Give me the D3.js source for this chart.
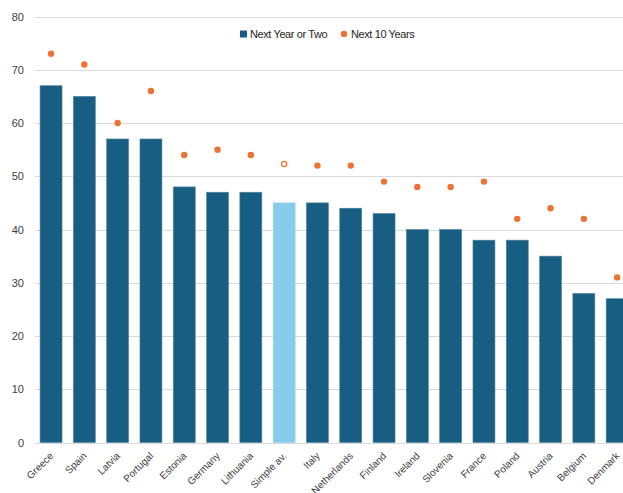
<!DOCTYPE html>
<html>
<head>
<meta charset="utf-8">
<script src="https://cdn.jsdelivr.net/npm/d3@7"></script>
<style>
  body { margin: 0; background: #fff; }
  svg { font-family: "Liberation Sans", Arial, sans-serif; }
</style>
</head>
<body>
<svg id="chart" width="623" height="493"></svg>
<script>
// Chart data
const countries = ["Greece", "Spain", "Latvia", "Portugal", "Estonia", "Germany", "Lithuania", "Simple av.", "Italy", "Netherlands", "Finland", "Ireland", "Slovenia", "France", "Poland", "Austria", "Belgium", "Denmark"];
const nextYearOrTwo = [67, 65, 57, 57, 48, 47, 47, 45, 45, 44, 43, 40, 40, 38, 38, 35, 28, 27];
const next10Years = [73, 71, 60, 66, 54, 55, 54, 52.3, 52, 52, 49, 48, 48, 49, 42, 44, 42, 31];
const yTicks = [0, 10, 20, 30, 40, 50, 60, 70, 80];
const highlight = "Simple av.";

const data = countries.map((c, i) => ({ country: c, near: nextYearOrTwo[i], far: next10Years[i] }));

const svg = d3.select("#chart");
const plotLeft = 35, plotRight = 623;
const plotTop = 16.5, plotBottom = 442.5;

// Scales
const x = d3.scaleBand()
    .domain(countries)
    .range([34.4, 34.4 + 18 * 33.3])
    .paddingInner(0.34)
    .paddingOuter(0.17);

const y = d3.scaleLinear()
    .domain([0, 80])
    .range([plotBottom, plotTop]);

// Gridlines
svg.append("g")
    .selectAll("line")
    .data(yTicks)
    .enter()
    .append("line")
    .attr("x1", plotLeft)
    .attr("x2", plotRight)
    .attr("y1", d => Math.round(y(d)) + 0.5)
    .attr("y2", d => Math.round(y(d)) + 0.5)
    .attr("stroke", "#d9d9d9")
    .attr("stroke-width", 1);

// Y axis labels
svg.append("g")
    .selectAll("text")
    .data(yTicks)
    .enter()
    .append("text")
    .attr("x", 24)
    .attr("y", d => y(d) + 4)
    .attr("text-anchor", "end")
    .attr("font-size", 11)
    .attr("fill", "#404040")
    .text(d => d);

// Bars
svg.append("g")
    .selectAll("rect")
    .data(data)
    .enter()
    .append("rect")
    .attr("x", d => x(d.country))
    .attr("y", d => y(d.near))
    .attr("width", x.bandwidth())
    .attr("height", d => y(0) - y(d.near))
    .attr("fill", d => d.country === highlight ? "#88ccec" : "#175e82")
    .attr("stroke", d => d.country === highlight ? "#9ad4ef" : "#4f86a3")
    .attr("stroke-width", 0.6);

// Dots
svg.append("g")
    .selectAll("circle")
    .data(data)
    .enter()
    .append("circle")
    .attr("cx", d => x(d.country) + x.bandwidth() / 2)
    .attr("cy", d => y(d.far))
    .attr("r", d => d.country === highlight ? 2.6 : 3.2)
    .attr("fill", d => d.country === highlight ? "#fff" : "#ed7233")
    .attr("stroke", d => d.country === highlight ? "#ed7233" : "none")
    .attr("stroke-width", 1.3);

// X axis labels (baseline end sits just right of the bar centre)
svg.append("g")
    .selectAll("text")
    .data(countries)
    .enter()
    .append("text")
    .attr("transform", d => `translate(${x(d) + x.bandwidth() / 2 + 3},${plotBottom + 14}) rotate(-45)`)
    .attr("text-anchor", "end")
    .attr("font-size", 10)
    .attr("fill", "#404040")
    .text(d => d);

// Legend
const legend = svg.append("g").attr("font-size", 11).attr("fill", "#262626");
legend.append("rect")
    .attr("x", 240).attr("y", 30.5).attr("width", 7).attr("height", 7)
    .attr("fill", "#175e82");
legend.append("text")
    .attr("x", 250).attr("y", 38)
    .attr("letter-spacing", -0.4)
    .text("Next Year or Two");
legend.append("circle")
    .attr("cx", 344).attr("cy", 34).attr("r", 3.2)
    .attr("fill", "#ed7233");
legend.append("text")
    .attr("x", 351).attr("y", 38)
    .attr("letter-spacing", -0.4)
    .text("Next 10 Years");
</script>
</body>
</html>
